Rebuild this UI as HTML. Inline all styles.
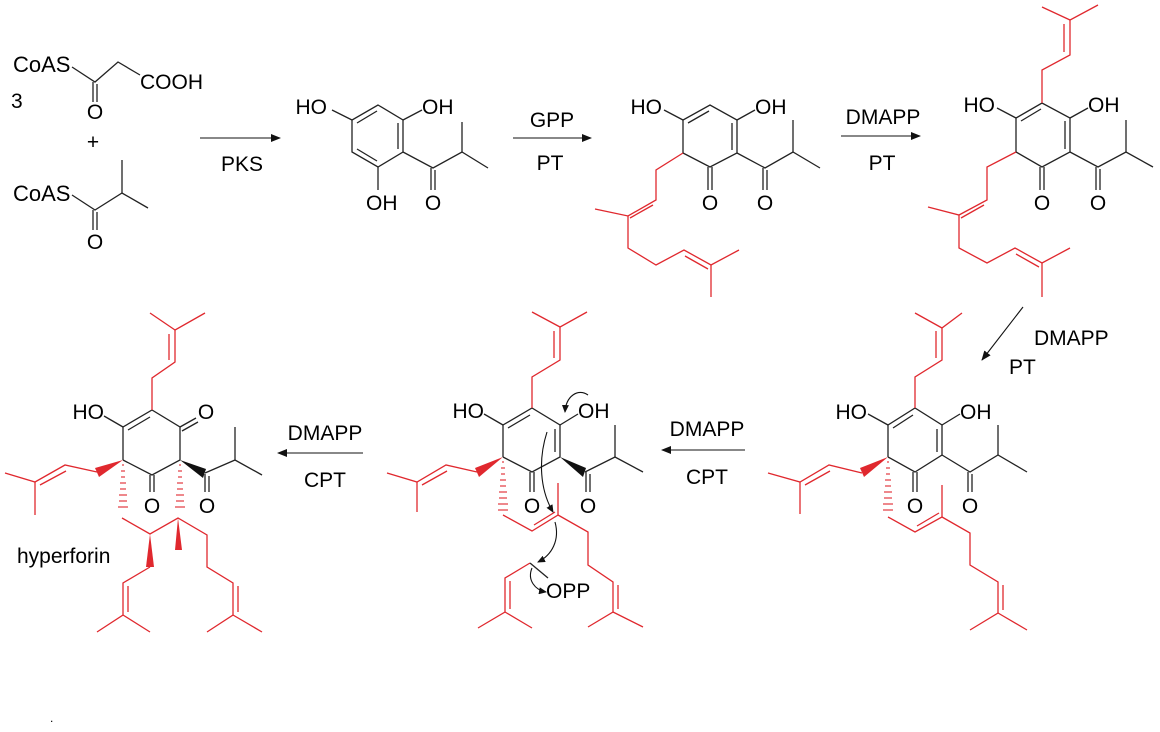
<!DOCTYPE html>
<html><head><meta charset="utf-8"><style>
html,body{margin:0;padding:0;background:#fff;}
svg{display:block;}
text{font-family:"Liberation Sans",Arial,sans-serif;font-size:21px;fill:#000;}
.e{text-anchor:end;}
.m{text-anchor:middle;}
.k{stroke:#222;stroke-width:1.3;fill:none;}
.r{stroke:#e0282e;stroke-width:1.3;fill:none;}
.a{stroke:#111;stroke-width:1.1;fill:none;}
</style></head><body>
<svg width="1160" height="732" viewBox="0 0 1160 732" xmlns="http://www.w3.org/2000/svg">
<defs>
<marker id="ah" markerWidth="10" markerHeight="8" refX="9" refY="4" orient="auto" markerUnits="userSpaceOnUse"><path d="M0,0 L10,4 L0,8 Z" fill="#111"/></marker>
<marker id="ah2" markerWidth="8" markerHeight="7" refX="7" refY="3.5" orient="auto" markerUnits="userSpaceOnUse"><path d="M0,0 L8,3.5 L0,7 Z" fill="#111"/></marker>
</defs>

<!-- Starting materials -->
<text x="13" y="72" style="font-size:22px">CoAS</text>
<text x="11" y="108">3</text>
<polyline class="k" points="72,67 95,82 118,62 140,75"/>
<line class="k" x1="93" y1="82" x2="93" y2="102"/><line class="k" x1="97" y1="84" x2="97" y2="102"/>
<text class="m" x="95" y="119">O</text>
<text x="140" y="89">COOH</text>
<text class="m" x="93" y="149">+</text>
<text x="13" y="201" style="font-size:22px">CoAS</text>
<polyline class="k" points="72,195 95,210 122,193 148,208"/>
<line class="k" x1="122" y1="193" x2="122" y2="160"/>
<line class="k" x1="93" y1="210" x2="93" y2="230"/><line class="k" x1="97" y1="212" x2="97" y2="230"/>
<text class="m" x="95" y="249">O</text>

<!-- PKS arrow -->
<line class="a" x1="200" y1="138" x2="280" y2="138" marker-end="url(#ah)"/>
<text class="m" x="242" y="171">PKS</text>

<!-- Phloroglucinol -->
<polygon class="k" points="378,105 403,120 403,152 378,167 352,152 352,120"/>
<line class="k" x1="357" y1="123" x2="377" y2="111"/>
<line class="k" x1="398" y1="123" x2="398" y2="149"/>
<line class="k" x1="377" y1="161" x2="357" y2="149"/>
<line class="k" x1="352" y1="120" x2="332" y2="110"/>
<text class="e" x="327" y="114">HO</text>
<line class="k" x1="403" y1="120" x2="422" y2="110"/>
<text x="422" y="114">OH</text>
<line class="k" x1="378" y1="167" x2="378" y2="190"/>
<text x="366" y="210">OH</text>
<polyline class="k" points="403,152 433,168 462,152 488,168"/>
<line class="k" x1="462" y1="152" x2="462" y2="122"/>
<line class="k" x1="431" y1="168" x2="431" y2="190"/><line class="k" x1="435" y1="170" x2="435" y2="190"/>
<text class="m" x="433" y="210">O</text>

<!-- GPP arrow -->
<line class="a" x1="513" y1="138" x2="591" y2="138" marker-end="url(#ah)"/>
<text class="m" x="552" y="127">GPP</text>
<text class="m" x="550" y="170">PT</text>

<!-- Compound 3 -->
<polyline class="k" points="683,153 683,120 710,105 737,120 737,153 710,167 683,153"/>
<line class="k" x1="688" y1="123" x2="709" y2="111"/>
<line class="k" x1="732" y1="123" x2="732" y2="150"/>
<line class="k" x1="683" y1="120" x2="664" y2="110"/>
<text class="e" x="662" y="114">HO</text>
<line class="k" x1="737" y1="120" x2="755" y2="110"/>
<text x="755" y="114">OH</text>
<line class="k" x1="708" y1="167" x2="708" y2="190"/><line class="k" x1="712" y1="167" x2="712" y2="190"/>
<text class="m" x="710" y="210">O</text>
<polyline class="k" points="737,153 765,168 793,152 820,168"/>
<line class="k" x1="793" y1="152" x2="793" y2="120"/>
<line class="k" x1="763" y1="168" x2="763" y2="190"/><line class="k" x1="767" y1="170" x2="767" y2="190"/>
<text class="m" x="765" y="210">O</text>
<polyline class="r" points="683,153 656,170 656,200 628,216 595,209"/>
<line class="r" x1="653" y1="205" x2="630" y2="218"/>
<polyline class="r" points="628,216 628,248 656,265 684,250 711,265 739,250"/>
<line class="r" x1="685" y1="256" x2="708" y2="269"/>
<line class="r" x1="711" y1="265" x2="711" y2="297"/>

<!-- DMAPP arrow -->
<line class="a" x1="841" y1="136" x2="920" y2="136" marker-end="url(#ah)"/>
<text class="m" x="883" y="124">DMAPP</text>
<text class="m" x="882" y="170">PT</text>

<!-- Compound 4 -->
<polyline class="k" points="1016,152 1016,118 1042,103 1070,118 1070,152 1042,167 1016,152"/>
<line class="k" x1="1021" y1="121" x2="1041" y2="109"/>
<line class="k" x1="1065" y1="121" x2="1065" y2="149"/>
<line class="k" x1="1016" y1="118" x2="997" y2="108"/>
<text class="e" x="995" y="112">HO</text>
<line class="k" x1="1070" y1="118" x2="1088" y2="108"/>
<text x="1088" y="112">OH</text>
<line class="k" x1="1040" y1="167" x2="1040" y2="190"/><line class="k" x1="1044" y1="167" x2="1044" y2="190"/>
<text class="m" x="1042" y="210">O</text>
<polyline class="k" points="1070,152 1098,167 1126,152 1153,167"/>
<line class="k" x1="1126" y1="152" x2="1126" y2="120"/>
<line class="k" x1="1096" y1="167" x2="1096" y2="190"/><line class="k" x1="1100" y1="169" x2="1100" y2="190"/>
<text class="m" x="1098" y="210">O</text>
<polyline class="r" points="1042,103 1042,70 1070,55 1070,20 1098,5"/>
<line class="r" x1="1064" y1="52" x2="1064" y2="24"/>
<line class="r" x1="1070" y1="20" x2="1042" y2="7"/>
<polyline class="r" points="1016,152 987,167 987,200 959,215 928,207"/>
<line class="r" x1="984" y1="205" x2="961" y2="218"/>
<polyline class="r" points="959,215 959,248 987,263 1015,248 1042,263 1070,248"/>
<line class="r" x1="1016" y1="254" x2="1039" y2="267"/>
<line class="r" x1="1042" y1="263" x2="1042" y2="297"/>

<!-- diagonal arrow -->
<line class="a" x1="1023" y1="307" x2="982" y2="360" marker-end="url(#ah)"/>
<text x="1034" y="345">DMAPP</text>
<text x="1009" y="374">PT</text>

<!-- Compound 5 (bottom right) -->
<polyline class="k" points="888,457 888,425 915,408 942,425 942,455 915,472 888,457"/>
<line class="k" x1="893" y1="428" x2="913" y2="415"/>
<line class="k" x1="937" y1="429" x2="937" y2="452"/>
<line class="k" x1="888" y1="425" x2="868" y2="414"/>
<text class="e" x="867" y="419">HO</text>
<line class="k" x1="942" y1="425" x2="960" y2="414"/>
<text x="960" y="419">OH</text>
<line class="k" x1="913" y1="472" x2="913" y2="492"/><line class="k" x1="917" y1="472" x2="917" y2="492"/>
<text class="m" x="915" y="513">O</text>
<polyline class="k" points="942,455 970,472 998,455 1027,472"/>
<line class="k" x1="998" y1="455" x2="998" y2="425"/>
<line class="k" x1="968" y1="472" x2="968" y2="492"/><line class="k" x1="972" y1="474" x2="972" y2="492"/>
<text class="m" x="970" y="513">O</text>
<polyline class="r" points="915,408 915,377 942,360 942,328 962,313"/>
<line class="r" x1="936" y1="358" x2="936" y2="331"/>
<line class="r" x1="942" y1="328" x2="915" y2="313"/>
<polygon points="888,457 860,468 864,477" fill="#e0282e"/>
<polyline class="r" points="862,473 829,465 800,482 768,473"/>
<line class="r" x1="830" y1="471" x2="805" y2="485"/>
<line class="r" x1="800" y1="482" x2="800" y2="514"/>
<g stroke="#e0282e" stroke-width="1.3" opacity="0.85">
<line x1="887" y1="462" x2="889" y2="462"/><line x1="886" y1="468" x2="890" y2="468"/><line x1="886" y1="474" x2="890" y2="474"/><line x1="885" y1="480" x2="891" y2="480"/><line x1="885" y1="486" x2="891" y2="486"/><line x1="884" y1="492" x2="892" y2="492"/><line x1="884" y1="498" x2="892" y2="498"/><line x1="883" y1="504" x2="893" y2="504"/><line x1="883" y1="510" x2="893" y2="510"/>
</g>
<polyline class="r" points="888,517 915,532 942,517 942,485"/>
<line class="r" x1="917" y1="526" x2="939" y2="513"/>
<polyline class="r" points="942,517 970,533 970,565 998,582 998,613 970,630"/>
<line class="r" x1="1003" y1="585" x2="1003" y2="610"/>
<line class="r" x1="998" y1="613" x2="1027" y2="630"/>

<!-- CPT arrow right -->
<line class="a" x1="745" y1="450" x2="662" y2="450" marker-end="url(#ah)"/>
<text class="m" x="707" y="436">DMAPP</text>
<text class="m" x="707" y="484">CPT</text>

<!-- Compound 6 (middle) -->
<polyline class="k" points="503,457 503,425 532,408 560,425 560,457 532,472 503,457"/>
<line class="k" x1="508" y1="428" x2="530" y2="415"/>
<line class="k" x1="555" y1="429" x2="555" y2="452"/>
<line class="k" x1="503" y1="425" x2="484" y2="414"/>
<text class="e" x="484" y="418">HO</text>
<line class="k" x1="560" y1="425" x2="578" y2="414"/>
<text x="578" y="418">OH</text>
<line class="k" x1="530" y1="472" x2="530" y2="492"/><line class="k" x1="534" y1="472" x2="534" y2="492"/>
<text class="m" x="532" y="513">O</text>
<polygon points="560,457 586,468 583,477" fill="#111"/>
<polyline class="k" points="585,472 615,457 643,472"/>
<line class="k" x1="615" y1="457" x2="615" y2="425"/>
<line class="k" x1="586" y1="472" x2="586" y2="492"/><line class="k" x1="590" y1="474" x2="590" y2="492"/>
<text class="m" x="588" y="513">O</text>
<polyline class="r" points="532,408 532,377 560,360 560,327 587,312"/>
<line class="r" x1="554" y1="358" x2="554" y2="331"/>
<line class="r" x1="560" y1="327" x2="532" y2="312"/>
<polygon points="503,457 475,468 479,477" fill="#e0282e"/>
<polyline class="r" points="477,472 446,465 417,482 387,473"/>
<line class="r" x1="447" y1="471" x2="422" y2="485"/>
<line class="r" x1="417" y1="482" x2="417" y2="512"/>
<g stroke="#e0282e" stroke-width="1.3" opacity="0.85">
<line x1="502" y1="462" x2="504" y2="462"/><line x1="501" y1="468" x2="505" y2="468"/><line x1="501" y1="474" x2="505" y2="474"/><line x1="500" y1="480" x2="506" y2="480"/><line x1="500" y1="486" x2="506" y2="486"/><line x1="499" y1="492" x2="507" y2="492"/><line x1="499" y1="498" x2="507" y2="498"/><line x1="498" y1="504" x2="508" y2="504"/><line x1="498" y1="510" x2="508" y2="510"/>
</g>
<polyline class="r" points="503,515 532,531 558,515 558,483"/>
<line class="r" x1="534" y1="525" x2="555" y2="512"/>
<polyline class="r" points="558,515 588,532 588,565 613,582 613,612 588,627"/>
<line class="r" x1="618" y1="585" x2="618" y2="609"/>
<line class="r" x1="613" y1="612" x2="643" y2="627"/>
<polyline class="r" points="530,563 505,578 505,612 478,628"/>
<line class="r" x1="510" y1="581" x2="510" y2="609"/>
<line class="r" x1="505" y1="612" x2="532" y2="628"/>
<line class="k" x1="530" y1="563" x2="548" y2="578"/>
<text x="546" y="598">OPP</text>
<path class="a" d="M588,395 C578,388 566,396 565,412" marker-end="url(#ah2)"/>
<path class="a" d="M547,432 C538,460 540,490 553,512" marker-end="url(#ah2)"/>
<path class="a" d="M555,522 C560,540 552,555 538,562" marker-end="url(#ah2)"/>
<path class="a" d="M532,568 C527,580 535,590 546,592" marker-end="url(#ah2)"/>

<!-- CPT arrow left -->
<line class="a" x1="363" y1="453" x2="278" y2="453" marker-end="url(#ah)"/>
<text class="m" x="325" y="440">DMAPP</text>
<text class="m" x="325" y="487">CPT</text>

<!-- Hyperforin -->
<polyline class="k" points="123,460 123,427 152,410 180,427 180,460 152,475 123,460"/>
<line class="k" x1="128" y1="430" x2="150" y2="417"/>
<line class="k" x1="123" y1="427" x2="104" y2="416"/>
<text class="e" x="104" y="419">HO</text>
<line class="k" x1="180" y1="427" x2="196" y2="418"/><line class="k" x1="182" y1="431" x2="198" y2="422"/>
<text class="m" x="206" y="419">O</text>
<line class="k" x1="150" y1="475" x2="150" y2="492"/><line class="k" x1="154" y1="475" x2="154" y2="492"/>
<text class="m" x="152" y="513">O</text>
<polygon points="180,460 206,469 203,478" fill="#111"/>
<polyline class="k" points="205,473 235,460 262,475"/>
<line class="k" x1="235" y1="460" x2="235" y2="427"/>
<line class="k" x1="205" y1="474" x2="205" y2="492"/><line class="k" x1="209" y1="476" x2="209" y2="492"/>
<text class="m" x="207" y="513">O</text>
<polyline class="r" points="152,410 152,378 175,362 175,330 205,313"/>
<line class="r" x1="169" y1="360" x2="169" y2="334"/>
<line class="r" x1="175" y1="330" x2="150" y2="313"/>
<polygon points="123,460 95,468 99,477" fill="#e0282e"/>
<polyline class="r" points="97,472 65,465 35,482 5,473"/>
<line class="r" x1="66" y1="471" x2="40" y2="485"/>
<line class="r" x1="35" y1="482" x2="35" y2="515"/>
<g stroke="#e0282e" stroke-width="1.3" opacity="0.85">
<line x1="122" y1="465" x2="124" y2="465"/><line x1="121" y1="471" x2="125" y2="471"/><line x1="121" y1="477" x2="125" y2="477"/><line x1="120" y1="483" x2="126" y2="483"/><line x1="120" y1="489" x2="126" y2="489"/><line x1="119" y1="495" x2="127" y2="495"/><line x1="119" y1="501" x2="127" y2="501"/><line x1="118" y1="507" x2="128" y2="507"/>
<line x1="179" y1="465" x2="181" y2="465"/><line x1="178" y1="471" x2="182" y2="471"/><line x1="178" y1="477" x2="182" y2="477"/><line x1="177" y1="483" x2="183" y2="483"/><line x1="177" y1="489" x2="183" y2="489"/><line x1="176" y1="495" x2="184" y2="495"/><line x1="176" y1="501" x2="184" y2="501"/><line x1="175" y1="507" x2="185" y2="507"/>
</g>
<polyline class="r" points="122,518 150,534 178,518 207,535 207,567 233,583 233,615 207,632"/>
<line class="r" x1="238" y1="586" x2="238" y2="612"/>
<line class="r" x1="233" y1="615" x2="262" y2="632"/>
<polygon points="178,518 175,550 182,550" fill="#e0282e"/>
<polygon points="150,534 146,567 154,567" fill="#e0282e"/>
<polyline class="r" points="150,567 123,583 123,615 97,632"/>
<line class="r" x1="128" y1="586" x2="128" y2="612"/>
<line class="r" x1="123" y1="615" x2="150" y2="632"/>
<text x="17" y="563">hyperforin</text>

<text x="50" y="722" style="font-size:12px">.</text>
</svg>
</body></html>
